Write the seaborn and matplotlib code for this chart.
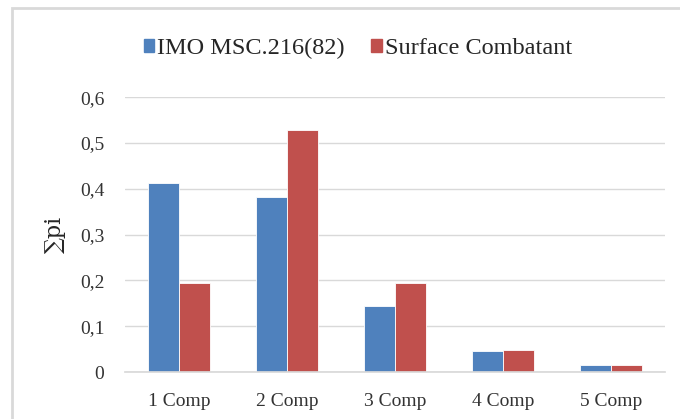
import matplotlib
matplotlib.use("Agg")
import matplotlib.pyplot as plt
import matplotlib.patches as mpatches
from matplotlib.ticker import FuncFormatter
import pandas as pd
import seaborn as sns

# Datos
categorias = ["1 Comp", "2 Comp", "3 Comp", "4 Comp", "5 Comp"]
imo = [0.413, 0.382, 0.144, 0.046, 0.015]
surface = [0.194, 0.528, 0.194, 0.049, 0.015]
series = ["IMO MSC.216(82)", "Surface Combatant"]
colores = ["#4F81BD", "#C0504D"]

df = pd.DataFrame({
    "Comp": categorias * 2,
    "valor": imo + surface,
    "serie": [series[0]] * len(categorias) + [series[1]] * len(categorias),
})

sns.set_theme(style="white")
plt.rcParams["font.family"] = ["Liberation Serif", "DejaVu Serif"]

fig = plt.figure(figsize=(6.8, 4.19), dpi=100)
ax = fig.add_axes([0.184, 0.112, 0.794, 0.656])

sns.barplot(data=df, x="Comp", y="valor", hue="serie", palette=colores,
            width=0.575, saturation=1, ax=ax, legend=False,
            edgecolor="white", linewidth=0.6)

ax.set_ylim(0, 0.6)
ax.set_yticks([0, 0.1, 0.2, 0.3, 0.4, 0.5, 0.6])
ax.yaxis.set_major_formatter(FuncFormatter(
    lambda v, p: "0" if v == 0 else f"{v:.1f}".replace(".", ",")))
ax.grid(axis="y", color="#D9D9D9", linewidth=1)
ax.set_axisbelow(True)
for lado in ["top", "right", "left"]:
    ax.spines[lado].set_visible(False)
ax.spines["bottom"].set_color("#D9D9D9")
ax.tick_params(axis="both", length=0, labelsize=14, colors="#333333")
ax.tick_params(axis="y", pad=15)
ax.tick_params(axis="x", pad=15)
ax.set_xlabel("")
ax.set_ylabel("∑pi", fontsize=16, labelpad=10, family=["DejaVu Serif"])

# Leyenda arriba
handles = [mpatches.Patch(color=c, label=s) for c, s in zip(colores, series)]
fig.legend(handles=handles, loc="center", bbox_to_anchor=(0.526, 0.884),
           ncol=2, frameon=False, fontsize=17.5, handlelength=0.45,
           handleheight=0.45, handletextpad=0.1, columnspacing=1.1)

# Borde del área del gráfico
fig.patches.append(mpatches.Rectangle((12 / 680, -0.05), 1.0, 1.05 - 8 / 419,
                                      transform=fig.transFigure, fill=False,
                                      edgecolor="#D9D9D9", linewidth=2))

fig.savefig("out.png", dpi=100)
